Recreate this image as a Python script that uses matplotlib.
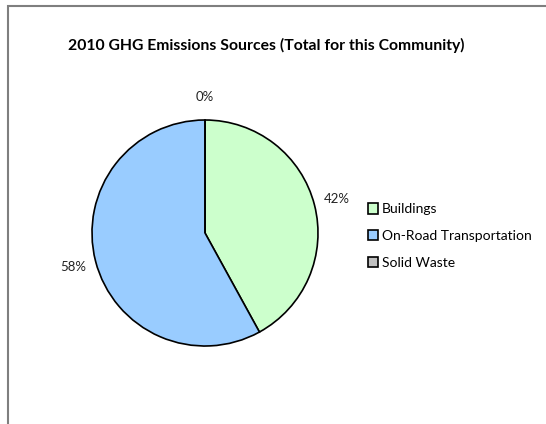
import matplotlib.pyplot as plt
from matplotlib.patches import Rectangle, Patch

sources = ['Buildings', 'On-Road Transportation', 'Solid Waste']
shares = [42, 58, 0]
colors = ['#CCFFCC', '#99CCFF', '#C0C0C0']

plt.rcParams['font.family'] = ['Lato', 'DejaVu Sans']

fig = plt.figure(figsize=(5.46, 4.24), dpi=100)

# chart border (runs off the right and bottom)
fig.patches.append(Rectangle((8 / 546, -0.05), 1.0, 1 - 6 / 424 + 0.05,
                             transform=fig.transFigure, fill=False,
                             edgecolor='#7f7f7f', linewidth=1.5))

fig.text(266 / 546, 1 - 45 / 424, '2010 GHG Emissions Sources (Total for this Community)',
         ha='center', va='center', fontsize=11.3, fontweight='bold')

ax = fig.add_axes([85 / 546, 71 / 424, 240 / 546, 240 / 424])

wedges, texts, autotexts = ax.pie(
    shares, colors=colors, startangle=90, counterclock=False, radius=1.13,
    autopct='%.0f%%', pctdistance=1.2,
    wedgeprops={'edgecolor': 'black', 'linewidth': 1.2},
    textprops={'fontsize': 9.5, 'color': '#222222'})

# pie() resets the limits, so fix them afterwards
ax.set_xlim(-1.2, 1.2)
ax.set_ylim(-1.2, 1.2)
ax.set_aspect('equal')
ax.axis('off')

handles = [Patch(facecolor=c, edgecolor='black', linewidth=1.2) for c in colors]
fig.legend(handles, sources, loc='center left', bbox_to_anchor=(355 / 546, 1 - 236 / 424),
           frameon=False, fontsize=10, handlelength=0.75, handleheight=0.75,
           handletextpad=0.3, labelspacing=1.05)

fig.savefig('out.png', dpi=100)
